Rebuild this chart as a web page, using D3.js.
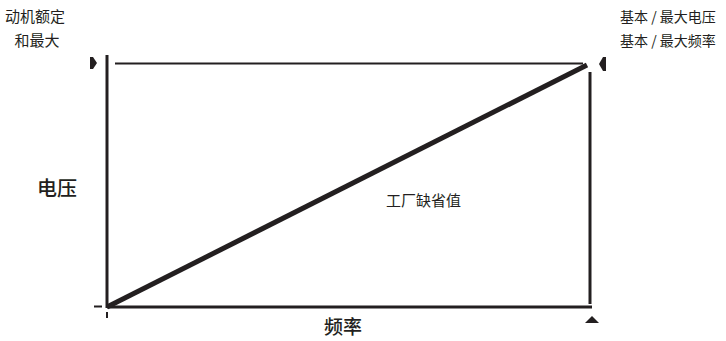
<!DOCTYPE html>
<html><head><meta charset="utf-8">
<script src="https://cdn.jsdelivr.net/npm/d3@7"></script>
<style>body{margin:0;background:#fff}svg{display:block}text{font-family:"Noto Sans CJK SC",sans-serif;fill:#231f20}</style>
</head><body>
<script>
// data: V/f curve (percent of base frequency, percent of base voltage)
const frequency = [0, 100];
const voltage = [0, 100];
const maxVoltage = 100;
const maxFrequency = 100;
const labels = {
  y: "电压", x: "频率", curve: "工厂缺省值",
  ratedTop: ["动机额定", "和最大"],
  baseRight: ["基本 / 最大电压", "基本 / 最大频率"]
};

const W = 726, H = 341, ink = "#231f20";
const svg = d3.select("body").append("svg").attr("width", W).attr("height", H);
const x = d3.scaleLinear().domain([0, maxFrequency]).range([107, 587]);
const y = d3.scaleLinear().domain([0, maxVoltage]).range([307, 65]);

// axes lines
svg.append("line").attr("x1", x(0)).attr("x2", x(0)).attr("y1", 55).attr("y2", y(0)+1)
  .attr("stroke", ink).attr("stroke-width", 3);
svg.append("line").attr("x1", x(0)).attr("x2", 592).attr("y1", y(0)).attr("y2", y(0))
  .attr("stroke", ink).attr("stroke-width", 3);
// max voltage reference line
svg.append("line").attr("x1", 115).attr("x2", 583).attr("y1", 63.5).attr("y2", 63.5)
  .attr("stroke", ink).attr("stroke-width", 2);
// base frequency vertical
svg.append("line").attr("x1", 590).attr("x2", 590).attr("y1", 72).attr("y2", 304)
  .attr("stroke", ink).attr("stroke-width", 3);

// V/f curve
const line = d3.line().x((d, i) => x(frequency[i])).y(d => y(d));
svg.append("path").datum(voltage).attr("d", line).attr("fill", "none")
  .attr("stroke", ink).attr("stroke-width", 5).attr("stroke-linecap", "butt");

// ticks
svg.append("line").attr("x1", 94).attr("x2", 102).attr("y1", 306.5).attr("y2", 306.5).attr("stroke", ink).attr("stroke-width", 2);
svg.append("line").attr("x1", 107).attr("x2", 107).attr("y1", 312).attr("y2", 318).attr("stroke", ink).attr("stroke-width", 2);

// arrows
svg.append("path").attr("d", "M90,57 L93,57 L97,63 L93,69 L90,69 Z").attr("fill", ink);
svg.append("path").attr("d", "M606,57 L603,57 L599,64 L603,71 L606,71 Z").attr("fill", ink);
svg.append("path").attr("d", "M585,323 L599,323 L595,319 L592,316 L589,319 Z").attr("fill", ink);

// text
const t = (s, xx, yy, size, anchor, weight) => svg.append("text").attr("x", xx).attr("y", yy)
  .attr("font-size", size).attr("text-anchor", anchor || "start").attr("font-weight", weight || 400).text(s);
t(labels.ratedTop[0], 5, 22, 15);
t(labels.ratedTop[1], 37, 46, 15, "middle");
t(labels.baseRight[0], 620, 22, 14);
t(labels.baseRight[1], 620, 46, 14);
t(labels.y, 37, 196, 20, "start", 500);
t(labels.curve, 386, 206, 15);
t(labels.x, 343, 334, 19, "middle", 500);
</script>
</body></html>
